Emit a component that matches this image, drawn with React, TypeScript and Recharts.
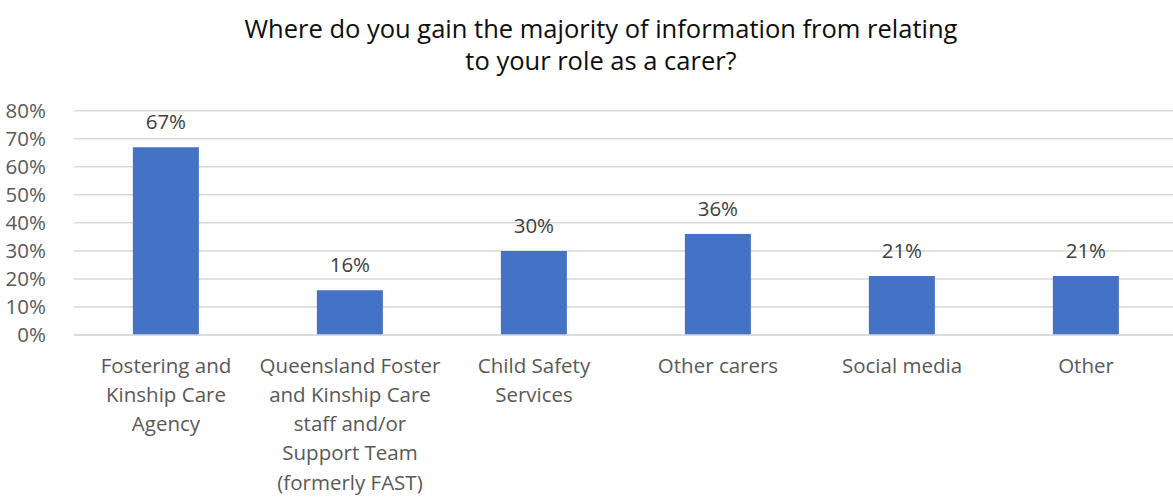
import React from "react";
import { BarChart, Bar, XAxis, YAxis, CartesianGrid, LabelList } from "recharts";

const titleLines = [
  "Where do you gain the majority of information from relating",
  "to your role as a carer?",
];

const categoryLines: string[][] = [
  ["Fostering and", "Kinship Care", "Agency"],
  ["Queensland Foster", "and Kinship Care", "staff and/or", "Support Team", "(formerly FAST)"],
  ["Child Safety", "Services"],
  ["Other carers"],
  ["Social media"],
  ["Other"],
];

const categories = categoryLines.map((l) => l.join(" "));
const shares = [0.67, 0.16, 0.3, 0.36, 0.21, 0.21];
const yTicks = [0, 0.1, 0.2, 0.3, 0.4, 0.5, 0.6, 0.7, 0.8];

const data = categories.map((name, i) => ({ name, value: shares[i] }));

const FONT = "'Open Sans', sans-serif";
const pct = (v: number) => `${Math.round(v * 100)}%`;

function CategoryTick(props: any) {
  const { x, y, payload } = props;
  const lines = categoryLines[payload.index] || [];
  return (
    <text x={x} y={y} textAnchor="middle" fill="#595959" fontSize={20.5} fontFamily={FONT}>
      {lines.map((line, i) => (
        <tspan key={i} x={x} dy={i === 0 ? 29.5 : 29.3}>
          {line}
        </tspan>
      ))}
    </text>
  );
}

export default function App() {
  return (
    <div style={{ position: "absolute", left: 0, top: 0, width: 1173, height: 497, overflow: "hidden", background: "#fff" }}>
      <div
        style={{
          position: "absolute",
          left: 0,
          top: 12,
          width: 1202,
          textAlign: "center",
          fontFamily: FONT,
          fontSize: 25.5,
          lineHeight: "32px",
          color: "#0d0d0d",
        }}
      >
        {titleLines.map((t, i) => (
          <div key={i}>{t}</div>
        ))}
      </div>
      <BarChart
        width={1178}
        height={497}
        data={data}
        margin={{ top: 110.7, right: 0, bottom: 0, left: 0 }}
        barCategoryGap="32%"
      >
        <CartesianGrid vertical={false} stroke="#D9D9D9" strokeWidth={1.5} />
        <XAxis
          dataKey="name"
          height={162}
          axisLine={{ stroke: "#D9D9D9", strokeWidth: 1.5 }}
          tickLine={false}
          interval={0}
          tick={<CategoryTick />}
        />
        <YAxis
          width={74}
          domain={[0, 0.8]}
          ticks={yTicks}
          tickFormatter={pct}
          axisLine={false}
          tickLine={false}
          tickMargin={22}
          tick={{ fill: "#595959", fontSize: 20.5, fontFamily: FONT }}
        />
        <Bar dataKey="value" fill="#4472C4" isAnimationActive={false}>
          <LabelList
            dataKey="value"
            position="top"
            offset={18}
            formatter={pct}
            fill="#404040"
            fontSize={20.5}
            fontFamily={FONT}
          />
        </Bar>
      </BarChart>
    </div>
  );
}
